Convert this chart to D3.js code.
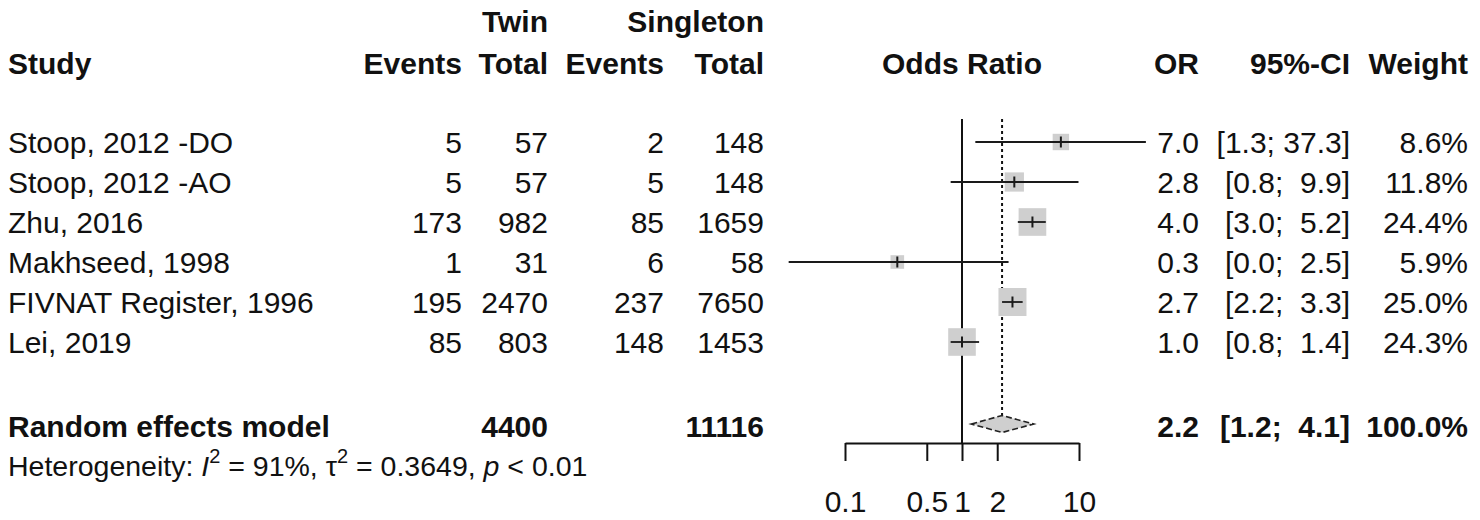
<!DOCTYPE html>
<meta charset="utf-8">
<html>
<head>
<script src="https://d3js.org/d3.v7.min.js"></script>
<style>
  body { margin: 0; background: #fff; }
  svg text { font-family: "Liberation Sans", Arial, sans-serif; fill: #111; white-space: pre; }
  .b { font-weight: bold; }
</style>
</head>
<body>
<div id="chart"></div>
<script>
// data
const studies = ["Stoop, 2012 -DO", "Stoop, 2012 -AO", "Zhu, 2016", "Makhseed, 1998", "FIVNAT Register, 1996", "Lei, 2019"];
const eventsTwin = [5, 5, 173, 1, 195, 85];
const totalTwin = [57, 57, 982, 31, 2470, 803];
const eventsSingle = [2, 5, 85, 6, 237, 148];
const totalSingle = [148, 148, 1659, 58, 7650, 1453];
const oddsRatio = [7.0, 2.8, 4.0, 0.28, 2.7, 1.0];
const ciLower = [1.3, 0.8, 3.0, 0.033, 2.2, 0.8];
const ciUpper = [37.3, 9.9, 5.2, 2.5, 3.3, 1.4];
const weights = [8.6, 11.8, 24.4, 5.9, 25.0, 24.3];

const pooledLabel = "Random effects model";
const pooledTotals = [4400, 11116];
const pooledOR = 2.2;
const pooledCI = [1.2, 4.1];
const pooledWeight = 100.0;
const hetI2 = 91, hetTau2 = 0.3649, hetP = "< 0.01";

const axisTicks = [0.1, 0.5, 1, 2, 10];

const W = 1480, H = 520;
const fs = 30;

const svg = d3.select("#chart").append("svg")
    .attr("width", W).attr("height", H);

// scales
const x = d3.scaleLog().domain([0.1, 10]).range([845, 1079]);
const y = d3.scalePoint().domain(studies).range([142, 342]);
const ySum = 424;
const side = d3.scaleSqrt().domain([0, 25]).range([0, 28]);

// column right edges
const col = {ev1: 462, tot1: 548, ev2: 664, tot2: 764, or: 1199, ci: 1350, w: 1468};

function txt(xp, yp, s, anchor, cls, size) {
  return svg.append("text")
    .attr("x", xp).attr("y", yp)
    .attr("text-anchor", anchor || "start")
    .attr("class", cls || null)
    .style("font-size", (size || fs) + "px")
    .text(s);
}

// headers
const hy = 74;
txt(col.tot1, 32, "Twin", "end", "b");
txt(col.tot2, 32, "Singleton", "end", "b");
txt(8, hy, "Study", "start", "b");
txt(col.ev1, hy, "Events", "end", "b");
txt(col.tot1, hy, "Total", "end", "b");
txt(col.ev2, hy, "Events", "end", "b");
txt(col.tot2, hy, "Total", "end", "b");
txt(x(1), hy, "Odds Ratio", "middle", "b");
txt(col.or, hy, "OR", "end", "b");
txt(col.ci, hy, "95%-CI", "end", "b");
txt(col.w, hy, "Weight", "end", "b");

const upW = d3.max(ciUpper, v => v.toFixed(1).length);
function ciText(lo, hi) {
  return "[" + lo.toFixed(1) + "; " + hi.toFixed(1).padStart(upW, " ") + "]";
}

// study rows text
studies.forEach((s, i) => {
  const yb = y(s) + 11;
  txt(8, yb, s);
  txt(col.ev1, yb, eventsTwin[i], "end");
  txt(col.tot1, yb, totalTwin[i], "end");
  txt(col.ev2, yb, eventsSingle[i], "end");
  txt(col.tot2, yb, totalSingle[i], "end");
  txt(col.or, yb, oddsRatio[i].toFixed(1), "end");
  txt(col.ci, yb, ciText(ciLower[i], ciUpper[i]), "end");
  txt(col.w, yb, weights[i].toFixed(1) + "%", "end");
});

// pooled row text
txt(8, ySum + 13, pooledLabel, "start", "b");
txt(col.tot1, ySum + 13, pooledTotals[0], "end", "b");
txt(col.tot2, ySum + 13, pooledTotals[1], "end", "b");
txt(col.or, ySum + 13, pooledOR.toFixed(1), "end", "b");
txt(col.ci, ySum + 13, ciText(pooledCI[0], pooledCI[1]), "end", "b");
txt(col.w, ySum + 13, pooledWeight.toFixed(1) + "%", "end", "b");

// heterogeneity line
const het = svg.append("text").attr("x", 8).attr("y", 476).style("font-size", "28.5px");
het.append("tspan").text("Heterogeneity: ");
het.append("tspan").style("font-style", "italic").text("I");
het.append("tspan").attr("dy", -13).style("font-size", "20px").text("2");
het.append("tspan").attr("dy", 13).text(" = " + hetI2 + "%, \u03c4");
het.append("tspan").attr("dy", -13).style("font-size", "20px").text("2");
het.append("tspan").attr("dy", 13).text(" = " + hetTau2.toFixed(4) + ", ");
het.append("tspan").style("font-style", "italic").text("p");
het.append("tspan").text(" " + hetP);

// reference lines
const axisY = 443;
svg.append("line")
  .attr("x1", x(1)).attr("x2", x(1)).attr("y1", 119).attr("y2", axisY)
  .attr("stroke", "#111").attr("stroke-width", 2);
svg.append("line")
  .attr("x1", x(pooledOR)).attr("x2", x(pooledOR)).attr("y1", 119).attr("y2", ySum - 8)
  .attr("stroke", "#111").attr("stroke-width", 2).attr("stroke-dasharray", "3,3");

// studies: CI line, square, mark
const g = svg.append("g");
studies.forEach((s, i) => {
  const cy = y(s), cx = x(oddsRatio[i]), a = side(weights[i]);
  g.append("rect")
    .attr("x", cx - a / 2).attr("y", cy - a / 2)
    .attr("width", a).attr("height", a)
    .attr("fill", "#cfcfcf");
  g.append("line")
    .attr("x1", x(ciLower[i])).attr("x2", x(ciUpper[i]))
    .attr("y1", cy).attr("y2", cy)
    .attr("stroke", "#1a1a1a").attr("stroke-width", 1.8);
  g.append("line")
    .attr("x1", cx).attr("x2", cx)
    .attr("y1", cy - 5.5).attr("y2", cy + 5.5)
    .attr("stroke", "#1a1a1a").attr("stroke-width", 2);
});

// pooled diamond
const dh = 8.5;
svg.append("path")
  .attr("d", d3.line()([
    [x(pooledCI[0]), ySum], [x(pooledOR), ySum - dh],
    [x(pooledCI[1]), ySum], [x(pooledOR), ySum + dh]
  ]) + "Z")
  .attr("fill", "#cfcfcf")
  .attr("stroke", "#222").attr("stroke-width", 1.6)
  .attr("stroke-dasharray", "6,3");

// axis
const ax = svg.append("g")
  .attr("transform", `translate(0,${axisY})`)
  .call(d3.axisBottom(x).tickValues(axisTicks).tickFormat(d3.format("")).tickSize(18).tickSizeOuter(0).tickPadding(30));
ax.select(".domain").attr("stroke", "#111").attr("stroke-width", 2);
ax.selectAll(".tick line").attr("stroke", "#111").attr("stroke-width", 2);
ax.selectAll(".tick text")
  .style("font-family", "\"Liberation Sans\", Arial, sans-serif")
  .style("font-size", "30px").attr("fill", "#111");
</script>
</body>
</html>
